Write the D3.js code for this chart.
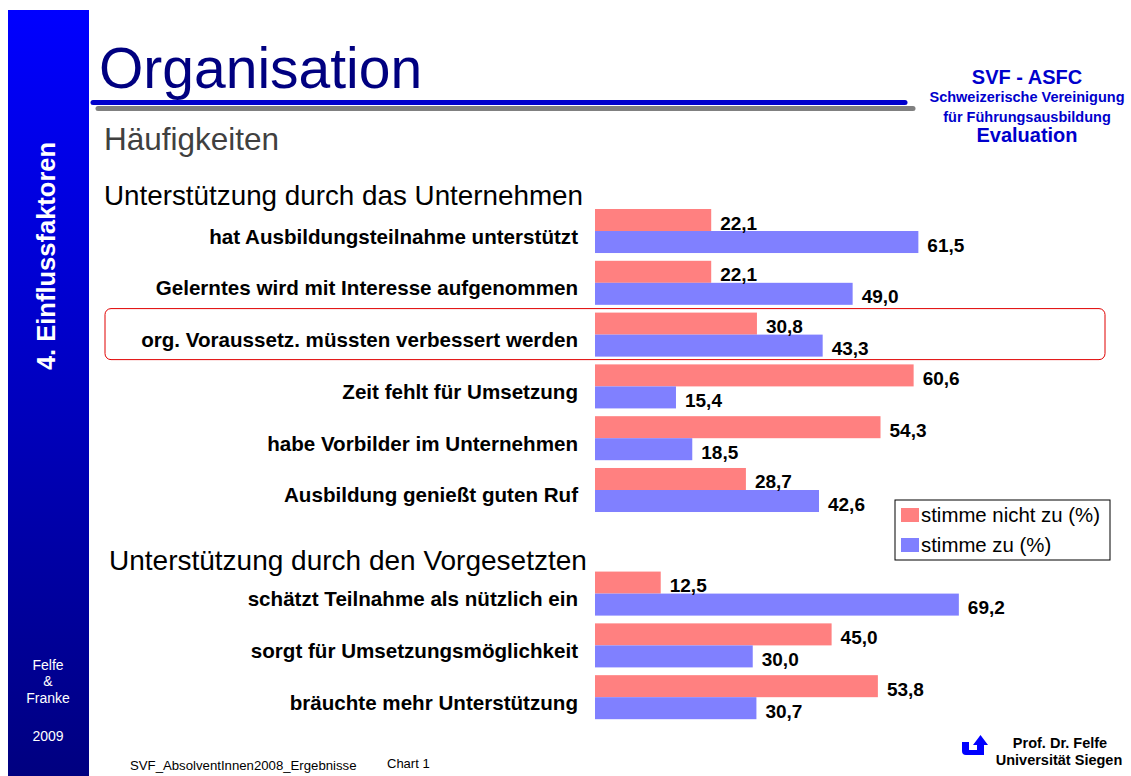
<!DOCTYPE html>
<html>
<head>
<meta charset="utf-8">
<title>Organisation - Häufigkeiten</title>
<script src="https://cdn.jsdelivr.net/npm/d3@7"></script>
<style>
  body { margin: 0; background: #fff; }
  svg { display: block; font-family: Arial, "Liberation Sans", sans-serif; }
</style>
</head>
<body>
<div id="chart"></div>
<script>
// data
var categories1 = ["hat Ausbildungsteilnahme unterstützt", "Gelerntes wird mit Interesse aufgenommen",
  "org. Voraussetz. müssten verbessert werden", "Zeit fehlt für Umsetzung",
  "habe Vorbilder im Unternehmen", "Ausbildung genießt guten Ruf"];
var nichtZu1 = [22.1, 22.1, 30.8, 60.6, 54.3, 28.7];
var zu1 = [61.5, 49.0, 43.3, 15.4, 18.5, 42.6];

var categories2 = ["schätzt Teilnahme als nützlich ein", "sorgt für Umsetzungsmöglichkeit",
  "bräuchte mehr Unterstützung"];
var nichtZu2 = [12.5, 45.0, 53.8];
var zu2 = [69.2, 30.0, 30.7];

var seriesNames = ["stimme nicht zu (%)", "stimme zu (%)"];
var seriesColors = ["#ff8080", "#8080ff"];

var width = 1131, height = 776;
var svg = d3.select("#chart").append("svg")
  .attr("width", width)
  .attr("height", height);

// left strip
var defs = svg.append("defs");
var grad = defs.append("linearGradient").attr("id", "side")
  .attr("x1", 0).attr("y1", 0).attr("x2", 0).attr("y2", 1);
grad.append("stop").attr("offset", "0%").attr("stop-color", "#0000ff");
grad.append("stop").attr("offset", "100%").attr("stop-color", "#000080");

svg.append("rect").attr("x", 8).attr("y", 10).attr("width", 81).attr("height", 766)
  .attr("fill", "url(#side)");

svg.append("text")
  .attr("transform", "translate(55,256) rotate(-90)")
  .attr("text-anchor", "middle")
  .style("font-size", "25.5px").style("font-weight", "bold")
  .style("fill", "#fff")
  .text("4. Einflussfaktoren");

var side = [["Felfe", 670], ["&", 686], ["Franke", 703], ["2009", 741]];
svg.selectAll(".side").data(side).enter().append("text")
  .attr("class", "side")
  .attr("x", 48).attr("y", function(d) { return d[1]; })
  .attr("text-anchor", "middle")
  .style("font-size", "14px").style("fill", "#fff")
  .text(function(d) { return d[0]; });

// title block
svg.append("text").attr("x", 99).attr("y", 88)
  .style("font-size", "57px").style("fill", "#000080")
  .text("Organisation");

svg.append("line").attr("x1", 98).attr("x2", 913).attr("y1", 108.5).attr("y2", 108.5)
  .attr("stroke", "#808080").attr("stroke-width", 5).attr("stroke-linecap", "round");
svg.append("line").attr("x1", 93).attr("x2", 905).attr("y1", 102.5).attr("y2", 102.5)
  .attr("stroke", "#0000cc").attr("stroke-width", 5).attr("stroke-linecap", "round");

svg.append("text").attr("x", 104).attr("y", 150)
  .style("font-size", "31.5px").style("fill", "#404040")
  .text("Häufigkeiten");

var head = [["SVF - ASFC", 84, 20], ["Schweizerische Vereinigung", 102, 14.5],
  ["für Führungsausbildung", 122, 14.5], ["Evaluation", 142, 20]];
svg.selectAll(".head").data(head).enter().append("text")
  .attr("class", "head")
  .attr("x", 1027).attr("y", function(d) { return d[1]; })
  .attr("text-anchor", "middle")
  .style("font-size", function(d) { return d[2] + "px"; })
  .style("font-weight", "bold").style("fill", "#0000cc")
  .text(function(d) { return d[0]; });

// chart
var rows = [];
categories1.forEach(function(c, i) { rows.push({ key: "a" + i, label: c, values: [nichtZu1[i], zu1[i]] }); });
rows.push({ key: "gap", label: "", values: null });
categories2.forEach(function(c, i) { rows.push({ key: "b" + i, label: c, values: [nichtZu2[i], zu2[i]] }); });

var x = d3.scaleLinear().domain([0, 100]).range([595, 595 + 525.8]);
var y = d3.scaleBand().domain(rows.map(function(d) { return d.key; }))
  .range([209, 209 + 51.8 * 10 - 7.8]).paddingInner(0.15).paddingOuter(0);
var ySub = d3.scaleBand().domain([0, 1]).range([0, y.bandwidth()]);

var locale = d3.formatLocale({ decimal: ",", thousands: ".", grouping: [3], currency: ["", "€"] });
var fmt = locale.format(".1f");

// highlight box
var hl = rows[2];
svg.append("rect").attr("x", 105).attr("y", y(hl.key) - 4)
  .attr("width", 1000).attr("height", y.bandwidth() + 7)
  .attr("rx", 6).attr("fill", "none").attr("stroke", "#e00000").attr("stroke-width", 1);

svg.append("text").attr("x", 104).attr("y", 205)
  .style("font-size", "27.8px").style("fill", "#000")
  .text("Unterstützung durch das Unternehmen");
svg.append("text").attr("x", 109).attr("y", 570)
  .style("font-size", "28px").style("fill", "#000")
  .text("Unterstützung durch den Vorgesetzten");

var groups = svg.selectAll(".grp").data(rows.filter(function(d) { return d.values; }))
  .enter().append("g").attr("class", "grp")
  .attr("transform", function(d) { return "translate(0," + y(d.key) + ")"; });

groups.append("text")
  .attr("x", 578).attr("y", y.bandwidth() / 2 + 12.5)
  .attr("text-anchor", "end")
  .style("font-size", "20.6px").style("font-weight", "bold").style("fill", "#000")
  .text(function(d) { return d.label; });

groups.selectAll("rect").data(function(d) { return d.values; })
  .enter().append("rect")
  .attr("x", x(0))
  .attr("y", function(d, i) { return ySub(i); })
  .attr("width", function(d) { return x(d) - x(0); })
  .attr("height", ySub.bandwidth())
  .attr("fill", function(d, i) { return seriesColors[i]; });

groups.selectAll(".val").data(function(d) { return d.values; })
  .enter().append("text").attr("class", "val")
  .attr("x", function(d) { return x(d) + 9; })
  .attr("y", function(d, i) { return ySub(i) + ySub.bandwidth() - 1.5; })
  .style("font-size", "19px").style("font-weight", "bold").style("fill", "#000")
  .text(function(d) { return fmt(d); });

// legend
var lg = svg.append("g").attr("transform", "translate(895,500)");
lg.append("rect").attr("width", 215).attr("height", 60)
  .attr("fill", "#fff").attr("stroke", "#000").attr("stroke-width", 1);
seriesNames.forEach(function(n, i) {
  lg.append("rect").attr("x", 6).attr("y", 8 + i * 30).attr("width", 18).attr("height", 14)
    .attr("fill", seriesColors[i]);
  lg.append("text").attr("x", 26).attr("y", 22 + i * 30)
    .style("font-size", "20.4px").style("fill", "#000").text(n);
});

// footer
svg.append("text").attr("x", 130).attr("y", 770).style("font-size", "13.2px").style("fill", "#000")
  .text("SVF_AbsolventInnen2008_Ergebnisse");
svg.append("text").attr("x", 387).attr("y", 768).style("font-size", "13px").style("fill", "#000")
  .text("Chart 1");

svg.append("path")
  .attr("d", "M962,742 L969,742 L969,750 L977,750 L977,745 L973,745 L980.5,735 L988,745 L984,745 L984,755 L966,755 Q962,755 962,751 Z")
  .attr("fill", "#0000ff");

svg.append("text").attr("x", 1060).attr("y", 748).attr("text-anchor", "middle")
  .style("font-size", "14.5px").style("font-weight", "bold").text("Prof. Dr. Felfe");
svg.append("text").attr("x", 1059).attr("y", 765).attr("text-anchor", "middle")
  .style("font-size", "14.5px").style("font-weight", "bold").text("Universität Siegen");
</script>
</body>
</html>
